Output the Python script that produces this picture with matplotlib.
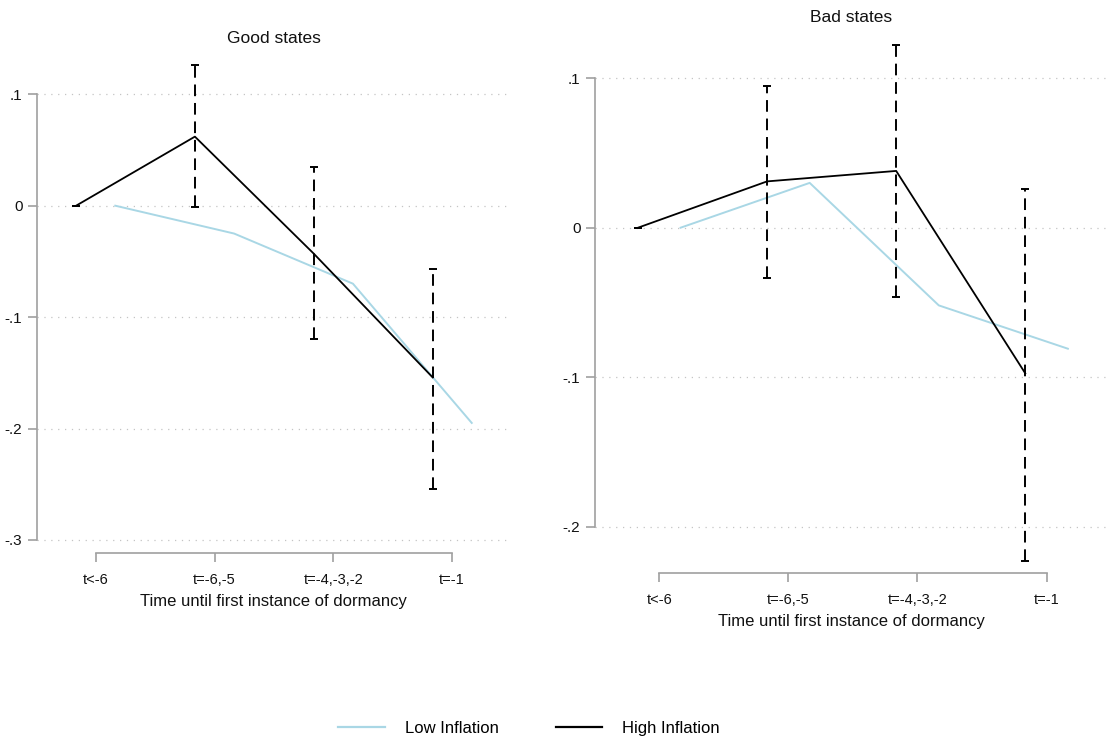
import matplotlib
matplotlib.use("Agg")
import matplotlib.pyplot as plt
import numpy as np

plt.rcParams["font.family"] = ["Liberation Sans", "DejaVu Sans"]

# --- data ---
categories = ["t<-6", "t=-6,-5", "t=-4,-3,-2", "t=-1"]
ytick_good = [0.1, 0.0, -0.1, -0.2, -0.3]
ytick_bad = [0.1, 0.0, -0.1, -0.2]

high_good = [0.0, 0.062, -0.043, -0.154]
high_good_lo = [0.0, -0.001, -0.120, -0.254]
high_good_hi = [0.0, 0.126, 0.035, -0.057]
low_good = [0.0, -0.025, -0.070, -0.195]

high_bad = [0.0, 0.031, 0.038, -0.0975]
high_bad_lo = [0.0, -0.0335, -0.0466, -0.223]
high_bad_hi = [0.0, 0.095, 0.122, 0.026]
low_bad = [0.0, 0.030, -0.052, -0.081]

LOW_C = "#a9d7e5"
HIGH_C = "black"
AX_C = "#a0a0a0"
GRID_C = "#c4c4c4"
SHIFT = 0.165

W, H = 1107, 738


def fmt(v):
    if abs(v) < 1e-9:
        return "0"
    s = f"{v:.1f}"
    return s.replace("0.", ".")


def panel(rect, title, high, lo, hi, low, yticks, xlim, ylim, title_pad):
    l, r, b, t = rect
    ax = fig.add_axes([l / W, 1 - b / H, (r - l) / W, (b - t) / H])
    x = np.arange(len(categories))
    for yv in yticks:
        ax.axhline(yv, color=GRID_C, lw=0.9, ls=(0, (1, 4.5)), zorder=0)
    ax.plot(x + SHIFT, low, color=LOW_C, lw=1.4, zorder=2)
    ax.plot(x - SHIFT, high, color=HIGH_C, lw=1.3, zorder=3)
    high = np.asarray(high)
    err = [high - np.asarray(lo), np.asarray(hi) - high]
    eb = ax.errorbar(x - SHIFT, high, yerr=err, fmt="none", ecolor="black",
                     elinewidth=1.4, capsize=3.2, capthick=1.4, zorder=4)
    for lc in eb[2]:
        lc.set_linestyle((0, (6, 3.5)))
    ax.set_xlim(*xlim)
    ax.set_ylim(*ylim)
    ax.set_xticks(x)
    ax.set_xticklabels(categories)
    ax.set_yticks(yticks)
    ax.set_yticklabels([fmt(v) for v in yticks])
    for s in ["top", "right"]:
        ax.spines[s].set_visible(False)
    ax.spines["left"].set_bounds(min(yticks), max(yticks))
    ax.spines["bottom"].set_bounds(0, len(categories) - 1)
    for s in ["left", "bottom"]:
        ax.spines[s].set_color(AX_C)
        ax.spines[s].set_linewidth(1.2)
    ax.tick_params(axis="both", colors=AX_C, length=6.5, width=1.2,
                   labelcolor="#111111", labelsize=10.5, pad=7.5)
    ax.tick_params(axis="y", labelsize=11, pad=4)
    ax.set_xlabel("Time until first instance of dormancy", fontsize=12,
                  color="#111111", labelpad=5)
    ax.set_title(title, fontsize=12.5, color="#111111", pad=title_pad)
    ax.set_facecolor("none")
    return ax


fig = plt.figure(figsize=(W / 100, H / 100), dpi=100)

# left: y axis x=37, right end 510.7, x axis at 553.3, zero at 205.7, 111.4 px per .1
panel((37, 510.7, 553.3, 50), "Good states", high_good, high_good_lo, high_good_hi,
      low_good, ytick_good, (-0.494, 3.493),
      (-(553.3 - 205.7) / 1114, (205.7 - 50) / 1114), 5)

# right: y axis x=595, x axis at 573.3, zero at 227.7, 149.4 px per .1
panel((595, 1107, 573.3, 30), "Bad states", high_bad, high_bad_lo, high_bad_hi,
      low_bad, ytick_bad, (-0.498, 3.468),
      (-(573.3 - 227.7) / 1494, (227.7 - 30) / 1494), 6)

handles = [plt.Line2D([], [], color=LOW_C, lw=1.6),
           plt.Line2D([], [], color=HIGH_C, lw=1.6)]
fig.legend(handles, ["Low Inflation", "High Inflation"], loc="lower center",
           bbox_to_anchor=(0.478, -0.018), ncol=2, frameon=False, fontsize=12,
           handlelength=2.8, handletextpad=1.2, columnspacing=3.4)

fig.savefig("out.png", dpi=100)
